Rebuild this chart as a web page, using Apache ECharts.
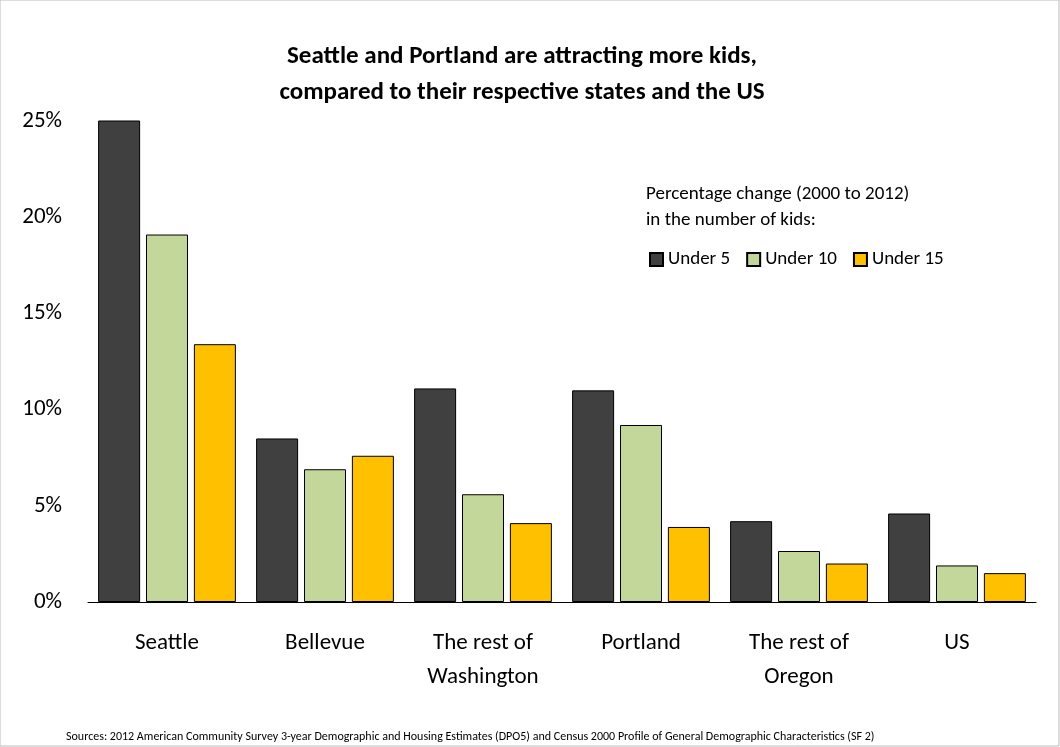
<!DOCTYPE html>
<html><head><meta charset="utf-8">
<script src="https://cdn.jsdelivr.net/npm/echarts@6/dist/echarts.min.js"></script>
<style>html,body{margin:0;padding:0;background:#fff}#c{width:1060px;height:747px}</style>
</head><body><div id="c"></div>
<script>
const categories = ["Seattle", "Bellevue", "The rest of\nWashington", "Portland", "The rest of\nOregon", "US"]
const under5 = [26.2, 8.5, 11.1, 11.0, 4.2, 4.6]
const under10 = [19.1, 6.9, 5.6, 9.2, 2.65, 1.9]
const under15 = [13.4, 7.6, 4.1, 3.9, 2.0, 1.5]
const yTicks = [0, 5, 10, 15, 20, 25]

const chart = echarts.init(document.getElementById("c"))
const font = "Calibri, Carlito, 'Open Sans', sans-serif"
const bar = (name, data, color) => ({
  name, type: "bar", data, barWidth: 42, barGap: "14%",
  itemStyle: { color, borderColor: "#000", borderWidth: 1 }
})
chart.setOption({
  textStyle: { fontFamily: font },
  title: {
    text: "Seattle and Portland are attracting more kids,\ncompared to their respective states and the US",
    left: 517, top: 34, textAlign: "center",
    textStyle: { fontSize: 25, fontWeight: "bold", color: "#000", lineHeight: 36, fontFamily: font }
  },
  graphic: [
    { type: "text", left: 646, top: 181, style: { text: "Percentage change (2000 to 2012)\nin the number of kids:", fontSize: 19, lineHeight: 26, fill: "#000", fontFamily: font } },
    { type: "text", left: 66, top: 731, style: { text: "Sources: 2012 American Community Survey 3-year Demographic and Housing Estimates (DPO5) and Census 2000 Profile of General Demographic Characteristics (SF 2)", fontSize: 12, fill: "#000", fontFamily: font } },
    { type: "rect", shape: { x: 0, y: 0, width: 1059, height: 746 }, style: { fill: "none", stroke: "#bbb" } }
  ],
  legend: {
    left: 644, top: 245, itemWidth: 13, itemHeight: 13, itemGap: 16, icon: "rect",
    textStyle: { fontSize: 19, color: "#000", fontFamily: font }
  },
  grid: { left: 88, right: 24, top: 121, bottom: 145 },
  xAxis: {
    type: "category", data: categories,
    axisLine: { lineStyle: { color: "#000" } }, axisTick: { show: false },
    axisLabel: { fontSize: 23, color: "#000", margin: 24, lineHeight: 34, fontFamily: font }
  },
  yAxis: {
    type: "value", min: yTicks[0], max: yTicks[yTicks.length - 1], interval: 5,
    splitLine: { show: false }, axisLine: { show: false }, axisTick: { show: false },
    axisLabel: { fontSize: 23, color: "#000", margin: 26, formatter: v => v + "%", fontFamily: font }
  },
  series: [
    bar("Under 5", under5, "#404040"),
    bar("Under 10", under10, "#c4d79b"),
    bar("Under 15", under15, "#ffc000")
  ]
})
window.onresize = () => chart.resize()
</script></body></html>
